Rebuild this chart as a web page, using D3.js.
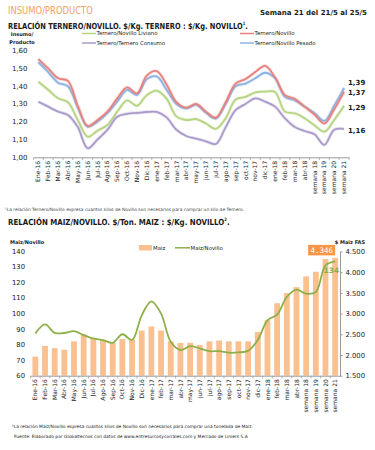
<!DOCTYPE html>
<html>
<head>
<meta charset="utf-8">
<script src="https://cdn.jsdelivr.net/npm/d3@7"></script>
<style>
  body { margin: 0; background: #fff; }
  svg { display: block; font-family: "DejaVu Sans", Verdana, sans-serif; }
</style>
</head>
<body>
<div id="chart"></div>
<script>
// categorias (mismas para los dos graficos)
var categorias = ["Ene-16","Feb-16","Mar-16","Abr-16","May-16","Jun-16","Jul-16","Ago-16","Sep-16","Oct-16","Nov-16","Dic-16",
  "ene-17","feb-17","mar-17","abr-17","may-17","jun-17","jul-17","ago-17","sep-17","oct-17","nov-17","dic-17",
  "ene-18","feb-18","mar-18","abr-18","semana 18","semana 19","semana 20","semana 21"];

// relacion ternero/novillo
var terneroNovillo = [1.553,1.50,1.445,1.43,1.29,1.176,1.21,1.257,1.332,1.394,1.36,1.46,1.485,1.41,1.31,1.28,1.30,1.257,1.223,1.31,1.415,1.44,1.48,1.515,1.45,1.35,1.33,1.285,1.24,1.19,1.27,1.37];
var terneroNovilloPesado = [1.535,1.48,1.42,1.40,1.28,1.172,1.20,1.248,1.313,1.38,1.35,1.44,1.455,1.38,1.30,1.275,1.295,1.25,1.218,1.30,1.40,1.415,1.445,1.476,1.445,1.34,1.32,1.285,1.25,1.205,1.29,1.39];
var terneroNovilloLiviano = [1.425,1.38,1.332,1.31,1.21,1.116,1.15,1.182,1.257,1.32,1.29,1.35,1.375,1.33,1.23,1.21,1.215,1.19,1.16,1.22,1.325,1.34,1.365,1.37,1.368,1.257,1.248,1.22,1.18,1.144,1.21,1.29];
var terneroConsumo = [1.313,1.285,1.257,1.238,1.17,1.051,1.10,1.154,1.228,1.245,1.25,1.255,1.255,1.225,1.155,1.12,1.105,1.09,1.075,1.17,1.265,1.30,1.332,1.313,1.285,1.22,1.17,1.148,1.13,1.07,1.155,1.16];
var ticksTernero = [1.0,1.1,1.2,1.3,1.4,1.5,1.6];

// relacion maiz/novillo
var maizFas = [1960,2220,2165,2125,2330,2500,2410,2370,2300,2385,2370,2590,2690,2590,2330,2290,2295,2245,2330,2350,2330,2330,2330,2555,2840,3250,3495,3640,3900,4010,4320,4346];
var maizNovillo = [87.2,93,87.6,87.5,88.7,86.1,84,82.9,81.2,86.7,83,98.9,107.9,100,81.8,76.5,79,77.6,75.8,75.8,74.8,75,76,83,95.7,99.4,110.7,115.4,112.8,113.9,131,133.6];
var ticksIzq = [60,70,80,90,100,110,120,130,140];
var ticksDer = [1500,2000,2500,3000,3500,4000,4500];

var svg = d3.select("#chart").append("svg").attr("width", 375).attr("height", 450);
var texto = "#1a1a1a";

function coma(d) { return d.toFixed(2).replace(".", ","); }
function miles(d) { return d3.format(",")(d).replace(/,/g, "."); }

// texto comprimido a un ancho dado con scale() en vez de textLength
function angosto(sel, x, y, ancho) {
  var w = sel.node().getComputedTextLength();
  sel.attr("transform", "translate(" + x + "," + y + ") scale(" + (ancho / w) + ",1)");
  return sel;
}

// encabezado
angosto(svg.append("text").attr("fill", "#f5a25e").style("font-size", "10px").text("INSUMO/PRODUCTO"), 8, 14, 85);
svg.append("text").attr("x", 367).attr("y", 14.5).attr("text-anchor", "end").attr("fill", texto)
  .style("font-size", "7px").style("font-weight", "bold").text("Semana 21 del 21/5 al 25/5");

// titulo en un solo texto: superindice y punto como tspan
function titulo(y, txt, sup, ancho) {
  var t = svg.append("text").attr("fill", texto)
    .style("font-size", "8.3px").style("font-weight", "bold");
  t.append("tspan").text(txt);
  t.append("tspan").attr("dy", -3.4).style("font-size", "4.6px").text(sup);
  t.append("tspan").attr("dy", 3.4).text(".");
  angosto(t, 8, y, ancho);
}

// ---------- grafico 1 ----------
var x1 = d3.scaleBand().domain(categorias).range([33.4, 349]);
var y1 = d3.scaleLinear().domain([1.0, 1.6]).range([157.3, 50.7]);

titulo(28.5, "RELACIÓN TERNERO/NOVILLO. $/Kg. TERNERO : $/Kg. NOVILLO", "1", 240);

svg.append("text").attr("x", 22).attr("y", 36).attr("text-anchor", "middle").attr("fill", texto)
  .style("font-size", "5px").style("font-weight", "bold").text("Insumo/");
svg.append("text").attr("x", 22).attr("y", 43.5).attr("text-anchor", "middle").attr("fill", texto)
  .style("font-size", "5px").style("font-weight", "bold").text("Producto");

var series1 = [
  {name: "Ternero/Novillo Liviano", values: terneroNovilloLiviano, color: "#b6d483", lx: 82, ly: 33.5, dy: 1.5},
  {name: "Ternero/Ternero Consumo", values: terneroConsumo, color: "#ab9bcb", lx: 82, ly: 43, dy: 1.2},
  {name: "Ternero/Novillo Pesado", values: terneroNovilloPesado, color: "#8db3e2", lx: 240, ly: 43, dy: -5.3},
  {name: "Ternero/Novillo", values: terneroNovillo, color: "#e6837f", lx: 240, ly: 33.5, dy: 1.2}
];

var g1 = svg.append("g");
g1.selectAll(".ytick").data(ticksTernero).enter().append("text")
  .attr("x", 27.5).attr("y", function(d) { return y1(d); }).attr("dy", "0.35em")
  .attr("text-anchor", "end").attr("fill", texto).style("font-size", "7px").text(coma);

var ax1 = g1.append("g").attr("transform", "translate(0,157.3)")
  .call(d3.axisBottom(x1).tickSize(0).tickSizeOuter(0));
ax1.select(".domain").attr("stroke", "#9a9a9a");
ax1.selectAll(".tick text").attr("transform", "rotate(-90)").attr("x", -3.5).attr("y", 0).attr("dy", "0.35em")
  .style("text-anchor", "end").style("font-size", "6px").style("font-family", "DejaVu Sans, sans-serif").attr("fill", texto);
g1.selectAll(".sep").data(categorias.concat(["fin"])).enter().append("line")
  .attr("x1", function(d) { return d === "fin" ? x1.range()[1] : x1(d); })
  .attr("x2", function(d) { return d === "fin" ? x1.range()[1] : x1(d); })
  .attr("y1", 157.3).attr("y2", 160).attr("stroke", "#9a9a9a").attr("stroke-width", 0.7);

var linea1 = d3.line()
  .x(function(d, i) { return x1(categorias[i]) + x1.bandwidth() / 2; })
  .y(function(d) { return y1(d); })
  .curve(d3.curveCatmullRom.alpha(0.5));

series1.forEach(function(s) {
  g1.append("path").datum(s.values).attr("fill", "none").attr("stroke", s.color)
    .attr("stroke-opacity", 0.25).attr("stroke-width", 3.5).attr("d", linea1);
  g1.append("path").datum(s.values).attr("fill", "none").attr("stroke", s.color)
    .attr("stroke-width", 1.8).attr("stroke-linejoin", "round").attr("d", linea1);
  var last = s.values[s.values.length - 1];
  g1.append("text").attr("x", 348).attr("y", y1(last) + s.dy).attr("dy", "0.35em")
    .attr("fill", texto).style("font-size", "7px").style("font-weight", "bold").text(coma(last));
  g1.append("line").attr("x1", s.lx).attr("x2", s.lx + 14).attr("y1", s.ly).attr("y2", s.ly)
    .attr("stroke", s.color).attr("stroke-width", 1.5);
  g1.append("text").attr("x", s.lx + 14.5).attr("y", s.ly).attr("dy", "0.35em").attr("fill", texto)
    .style("font-size", "5.4px").text(s.name);
});

svg.append("text").attr("x", 5).attr("y", 211).attr("fill", "#444").style("font-size", "4.4px")
  .text("¹La relación Ternero/Novillo expresa cuantos kilos de Novillo son necesarios para comprar un kilo de Ternero.");

// ---------- grafico 2 ----------
var x2 = d3.scaleBand().domain(categorias).range([30.5, 340]).paddingInner(0.4).paddingOuter(0.2);
var yIzq = d3.scaleLinear().domain([60, 140]).range([375.7, 251.5]);
var yDer = d3.scaleLinear().domain([1500, 4500]).range([375.7, 251.5]);

titulo(224.5, "RELACIÓN MAIZ/NOVILLO. $/Ton. MAIZ : $/Kg. NOVILLO", "2", 222);

svg.append("text").attr("x", 10).attr("y", 243.5).attr("fill", texto).style("font-size", "5px")
  .style("font-weight", "bold").text("Maiz/Novillo");
svg.append("text").attr("x", 365).attr("y", 243.5).attr("text-anchor", "end").attr("fill", texto)
  .style("font-size", "5px").style("font-weight", "bold").text("$ Maiz FAS");

var g2 = svg.append("g");
g2.append("rect").attr("x", 139).attr("y", 245).attr("width", 13).attr("height", 5.5).attr("fill", "#fac090");
g2.append("text").attr("x", 153).attr("y", 247.8).attr("dy", "0.35em").attr("fill", texto).style("font-size", "5.4px").text("Maiz");
g2.append("line").attr("x1", 175).attr("x2", 190).attr("y1", 247.8).attr("y2", 247.8).attr("stroke", "#8db049").attr("stroke-width", 1.5);
g2.append("text").attr("x", 190.5).attr("y", 247.8).attr("dy", "0.35em").attr("fill", texto).style("font-size", "5.4px").text("Maiz/Novillo");

g2.selectAll(".yizq").data(ticksIzq).enter().append("text")
  .attr("x", 25).attr("y", function(d) { return yIzq(d); }).attr("dy", "0.35em")
  .attr("text-anchor", "end").attr("fill", texto).style("font-size", "6.8px").text(function(d) { return d; });

var axDer = g2.append("g").attr("transform", "translate(340,0)")
  .call(d3.axisRight(yDer).tickValues(ticksDer).tickSize(2.5).tickPadding(3).tickFormat(miles).tickSizeOuter(0));
axDer.selectAll("line,path").attr("stroke", "#9a9a9a");
axDer.selectAll("text").style("font-size", "6.8px").style("font-family", "DejaVu Sans, sans-serif").attr("fill", texto);

g2.selectAll(".bar").data(maizFas).enter().append("rect")
  .attr("x", function(d, i) { return x2(categorias[i]); })
  .attr("width", x2.bandwidth())
  .attr("y", function(d) { return yDer(d); })
  .attr("height", function(d) { return yDer(1500) - yDer(d); })
  .attr("fill", "#fac090");

var ax2 = g2.append("g").attr("transform", "translate(0,375.7)")
  .call(d3.axisBottom(x2).tickSize(0).tickSizeOuter(0));
ax2.select(".domain").attr("stroke", "#9a9a9a");
ax2.selectAll(".tick text").attr("transform", "rotate(-90)").attr("x", -3.5).attr("y", 0).attr("dy", "0.35em")
  .style("text-anchor", "end").style("font-size", "6px").style("font-family", "DejaVu Sans, sans-serif").attr("fill", texto);
g2.selectAll(".sep").data(categorias).enter().append("line")
  .attr("x1", function(d) { return x2(d) - x2.step() * 0.2; })
  .attr("x2", function(d) { return x2(d) - x2.step() * 0.2; })
  .attr("y1", 375.7).attr("y2", 378.5).attr("stroke", "#9a9a9a").attr("stroke-width", 0.7);

var linea2 = d3.line()
  .x(function(d, i) { return x2(categorias[i]) + x2.bandwidth() / 2; })
  .y(function(d) { return yIzq(d); })
  .curve(d3.curveCatmullRom.alpha(0.5));
g2.append("path").datum(maizNovillo).attr("fill", "none").attr("stroke", "#8db049")
  .attr("stroke-width", 1.8).attr("stroke-linejoin", "round").attr("d", linea2);

// etiquetas del ultimo dato
var n = categorias.length - 1;
var cx = x2(categorias[n]) + x2.bandwidth() / 2;
g2.append("rect").attr("x", cx - 27).attr("y", yDer(maizFas[n]) - 13).attr("width", 27).attr("height", 10.5).attr("fill", "#f79646");
g2.append("text").attr("x", cx - 13.5).attr("y", yDer(maizFas[n]) - 7.7).attr("dy", "0.35em").attr("text-anchor", "middle")
  .attr("fill", "#fff").style("font-size", "7.5px").style("font-family", "DejaVu Sans Mono, monospace").text(miles(maizFas[n]));
g2.append("text").attr("x", cx + 4).attr("y", yIzq(maizNovillo[n]) + 8.5).attr("dy", "0.35em").attr("text-anchor", "end")
  .attr("fill", "#8aac48").style("font-size", "7.5px").style("font-weight", "bold").text(Math.round(maizNovillo[n]));

svg.append("text").attr("x", 12).attr("y", 428).attr("fill", texto).style("font-size", "4.4px")
  .text("²La relación Maiz/Novillo expresa cuantos kilos de Novillo son necesarios para comprar una tonelada de Maiz.");
svg.append("text").attr("x", 14).attr("y", 438).attr("fill", texto).style("font-size", "4.4px")
  .text("Fuente: Elaborado por Globaltecnos con datos de www.entresurcosycorrales.com y Mercado de Liniers S.A");
</script>
</body>
</html>
